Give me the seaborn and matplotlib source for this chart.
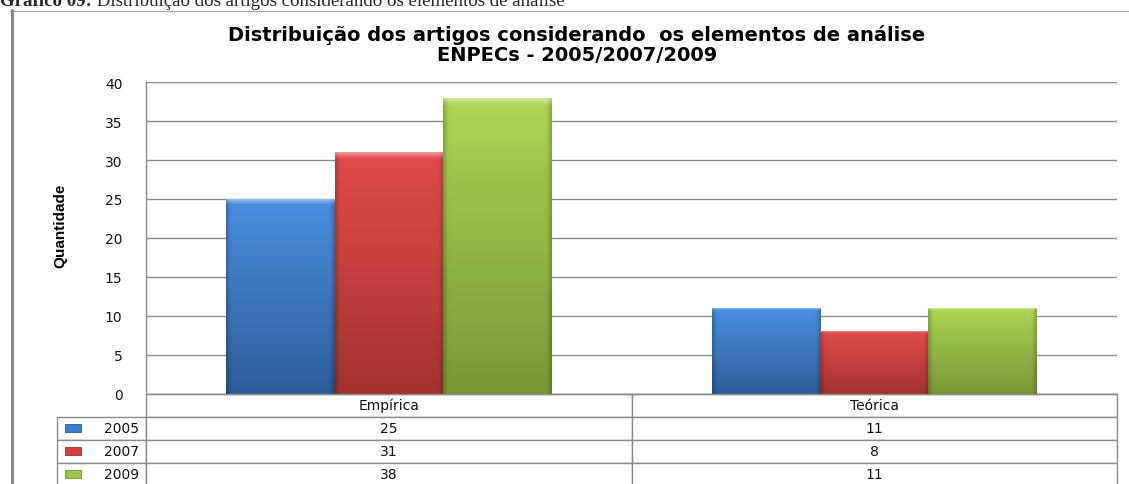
import numpy as np
import pandas as pd
import matplotlib
matplotlib.use("Agg")
import matplotlib.pyplot as plt
from matplotlib.lines import Line2D
from matplotlib.patches import Rectangle
from matplotlib.table import Table
from matplotlib.colors import to_rgb
import seaborn as sns

# ---------------- data ----------------
categories = ["Empírica", "Teórica"]
years = ["2005", "2007", "2009"]
values_2005 = [25, 11]
values_2007 = [31, 8]
values_2009 = [38, 11]
yticks = [0, 5, 10, 15, 20, 25, 30, 35, 40]

title = "Distribuição dos artigos considerando  os elementos de análise\nENPECs - 2005/2007/2009"
caption_bold = "Gráfico 09:"
caption_rest = " Distribuição dos artigos considerando os elementos de análise"
ylabel = "Quantidade"

colors_mid = ["#3C7CCB", "#D23F3F", "#9CC44A"]
colors_top = ["#4A90E0", "#E24C4C", "#ADD556"]
colors_bot = ["#2D5C97", "#A23131", "#789735"]

series = [values_2005, values_2007, values_2009]
df = pd.DataFrame({
    "categoria": categories * len(years),
    "ano": np.repeat(years, len(categories)),
    "valor": [v for s in series for v in s],
})

# ---------------- figure ----------------
sns.set_style("white")
plt.rcParams["font.family"] = ["DejaVu Sans"]
W, H = 1129, 485
fig = plt.figure(figsize=(W / 100, H / 100), dpi=100)
ax_l, ax_r, ax_t, ax_b = 146, 1117, 83.3, 394.5
ax = fig.add_axes([ax_l / W, (H - ax_b) / H, (ax_r - ax_l) / W, (ax_b - ax_t) / H])

sns.barplot(data=df, x="categoria", y="valor", hue="ano", order=categories,
            hue_order=years, palette=colors_mid, width=0.67, saturation=1,
            linewidth=0, legend=False, ax=ax)

# gradient shading on bars
for ci, cont in enumerate(ax.containers):
    top = np.array(to_rgb(colors_top[ci]))
    bot = np.array(to_rgb(colors_bot[ci]))
    for p in cont.patches:
        x0, y0 = p.get_x(), p.get_y()
        w, h = p.get_width(), p.get_height()
        ny, nx = 200, 60
        t = np.linspace(0, 1, ny)[:, None, None]
        img = top * (1 - t) + bot * t
        img = np.broadcast_to(img, (ny, nx, 3)).copy()
        xs = np.linspace(0, 1, nx)
        edge = 1 - 0.2 * np.clip(1 - np.minimum(xs, 1 - xs) / 0.04, 0, 1)
        img *= edge[None, :, None]
        hl = np.clip(1 - np.linspace(0, 1, ny) / 0.025, 0, 1)
        img = img + (1 - img) * 0.4 * hl[:, None, None]
        im = ax.imshow(np.clip(img, 0, 1), extent=[x0, x0 + w, y0, y0 + h],
                       aspect="auto", origin="upper", zorder=p.get_zorder() + 0.1,
                       interpolation="bilinear")
        im.set_clip_path(p)

ax.set_xlim(-0.5, 1.5)
ax.set_ylim(0, 40)
ax.set_yticks(yticks)
ax.set_yticklabels([str(v) for v in yticks], family="DejaVu Sans")
ax.tick_params(axis="y", length=0, pad=17, labelsize=10, labelcolor="#111111")
ax.tick_params(axis="x", length=0, labelbottom=False)
ax.set_xlabel("")
ax.set_ylabel("")
ax.yaxis.grid(True, color="#8c8c8c", linewidth=1)
ax.set_axisbelow(True)
for s in ["top", "right"]:
    ax.spines[s].set_visible(False)
for s in ["left", "bottom"]:
    ax.spines[s].set_color("#8c8c8c")
    ax.spines[s].set_linewidth(1)

# ---------------- data table ----------------
axw = ax_r - ax_l
axh = ax_b - ax_t
label_w = (ax_l - 57) / axw
row_h = 23 / axh
col_w = 0.5
tbl = Table(ax, bbox=[-label_w, -4 * row_h, 1 + label_w, 4 * row_h])
c = tbl.add_cell(0, 0, width=label_w, height=row_h, text="", loc="center")
c.set_visible(False)
for j, cat in enumerate(categories):
    tbl.add_cell(0, j + 1, width=col_w, height=row_h, text=cat, loc="center")
for i, (yr, s) in enumerate(zip(years, series)):
    tbl.add_cell(i + 1, 0, width=label_w, height=row_h, text=yr, loc="right")
    for j, v in enumerate(s):
        tbl.add_cell(i + 1, j + 1, width=col_w, height=row_h, text=str(v), loc="center")
tbl.auto_set_font_size(False)
tbl.set_fontsize(10)
for (r, cc), cell in tbl.get_celld().items():
    cell.set_edgecolor("#8c8c8c")
    cell.set_linewidth(1)
    cell.get_text().set_color("#111111")
    cell.get_text().set_family("DejaVu Sans")
    cell.PAD = 0.08
ax.add_table(tbl)

# legend keys inside row labels
for i in range(len(years)):
    yc = -(i + 1.5) * row_h
    kw, kh = 16 / axw, 8 / axh
    r = Rectangle(((65 - ax_l) / axw, yc - kh / 2), kw, kh, transform=ax.transAxes,
                  facecolor=colors_mid[i], edgecolor=colors_bot[i], linewidth=0.6,
                  clip_on=False, zorder=5)
    ax.add_patch(r)

# ---------------- titles / labels ----------------
fig.text(577 / W, 1 - 45 / H, title, ha="center", va="center", fontsize=14,
         fontweight="bold", family="DejaVu Sans", linespacing=1.1, color="black")
fig.text(60 / W, 1 - 226 / H, ylabel, rotation=90, ha="center", va="center",
         fontsize=11, fontweight="bold", color="black",
         family=["Liberation Sans", "DejaVu Sans"])

t1 = fig.text(0, 1 - 6 / H, caption_bold, ha="left", va="baseline", fontsize=13.6,
              fontweight="bold", family="Liberation Serif")
renderer = fig.canvas.get_renderer()
bb = t1.get_window_extent(renderer)
fig.text(bb.x1 / W, 1 - 6 / H, caption_rest, ha="left", va="baseline", fontsize=13.6,
         family="Liberation Serif")

# frame lines
fig.add_artist(Line2D([10 / W, 1], [1 - 11.5 / H] * 2, color="#a8a8a8", linewidth=0.8))
fig.add_artist(Line2D([12 / W] * 2, [0, 1 - 11 / H], color="#8a8a8a", linewidth=2.3))

fig.savefig("out.png", dpi=100)
